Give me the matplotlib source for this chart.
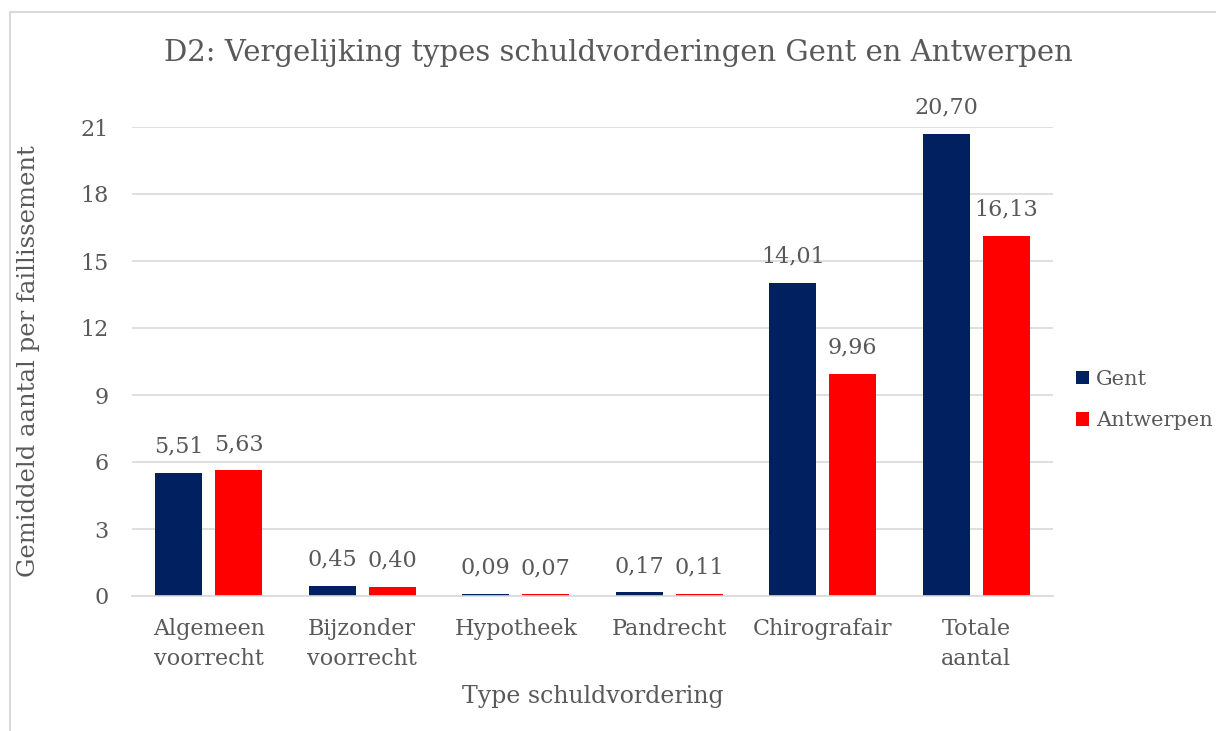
import matplotlib.pyplot as plt
import numpy as np
from matplotlib.patches import Rectangle

categories = ["Algemeen\nvoorrecht", "Bijzonder\nvoorrecht", "Hypotheek",
              "Pandrecht", "Chirografair", "Totale\naantal"]
gent = [5.51, 0.45, 0.09, 0.17, 14.01, 20.70]
antwerpen = [5.63, 0.40, 0.07, 0.11, 9.96, 16.13]
yticks = [0, 3, 6, 9, 12, 15, 18, 21]

navy = "#002060"
red = "#FF0000"
grey = "#595959"

plt.rcParams["font.family"] = ["DejaVu Serif"]

fig = plt.figure(figsize=(12.16, 7.31), dpi=100)
ax = fig.add_axes([132 / 1216, 1 - 596 / 731, 921 / 1216, 469 / 731])

x = np.arange(len(categories))
w = 0.305
off = 0.195
b1 = ax.bar(x - off, gent, w, color=navy, label="Gent")
b2 = ax.bar(x + off, antwerpen, w, color=red, label="Antwerpen")

for bars, vals in ((b1, gent), (b2, antwerpen)):
    for b, v in zip(bars, vals):
        ax.text(b.get_x() + b.get_width() / 2, v + 0.68, f"{v:.2f}".replace(".", ","),
                ha="center", va="bottom", fontsize=16, color=grey)

ax.set_xlim(-0.5, len(categories) - 0.5)
ax.set_ylim(0, 21)
ax.set_yticks(yticks)
ax.set_xticks(x)
ax.set_xticklabels(categories, fontsize=16, color=grey, linespacing=1.45)
ax.tick_params(axis="y", labelsize=16, labelcolor=grey, length=0, pad=17)
ax.tick_params(axis="x", length=0, pad=16)
ax.grid(axis="y", color="#d9d9d9", linewidth=1.2)
ax.set_axisbelow(True)
for s in ["top", "right", "left"]:
    ax.spines[s].set_visible(False)
ax.spines["bottom"].set_color("#d9d9d9")
ax.spines["bottom"].set_linewidth(1.2)

ax.set_xlabel("Type schuldvordering", fontsize=17, color=grey)
ax.xaxis.set_label_coords(0.5, (596 - 685) / 469)
ax.set_ylabel("Gemiddeld aantal per faillissement", fontsize=17.5, color=grey)
ax.yaxis.set_label_coords((40 - 132) / 921, 0.5)
fig.text(618 / 1216, 1 - 53 / 731, "D2: Vergelijking types schuldvorderingen Gent en Antwerpen",
         ha="center", va="center", fontsize=21, color=grey)

leg = ax.legend(loc="center left", bbox_to_anchor=((1076 - 132) / 921, (596 - 400) / 469),
                frameon=False, borderpad=0, borderaxespad=0,
                fontsize=15, handlelength=0.6, handleheight=0.6, handletextpad=0.35,
                labelspacing=1.1)
for t in leg.get_texts():
    t.set_color(grey)

fig.patches.append(Rectangle((10 / 1216, -0.1), 1.2, 1 - 12 / 731 + 0.1,
                             transform=fig.transFigure, fill=False,
                             edgecolor="#d9d9d9", linewidth=1.5))

fig.savefig("out.png", dpi=100)
